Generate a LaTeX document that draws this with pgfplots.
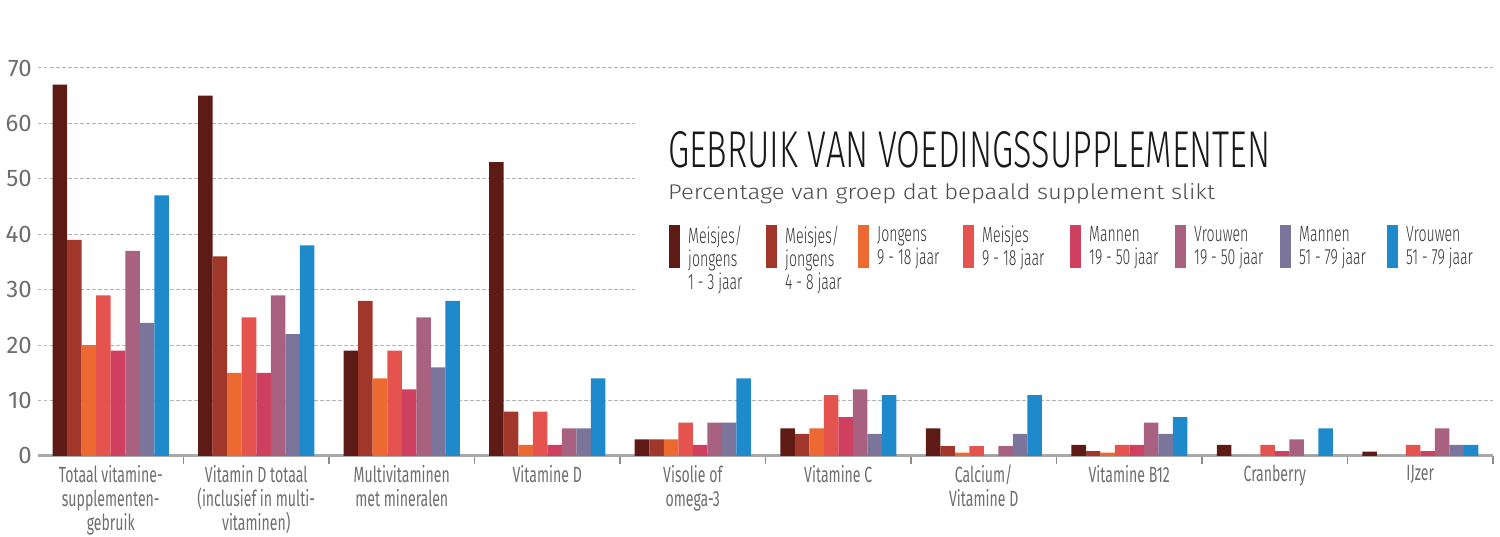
\documentclass[border=0pt]{standalone}
\usepackage{fontspec}
\setmainfont{Fira Sans}
\newfontfamily\cond{Fira Sans}[FakeStretch=0.64]
\newfontfamily\condl{Fira Sans Light}[FakeStretch=0.64]
\newfontfamily\light{Fira Sans Light}
\usepackage{pgfplots}
\usepackage{pgfplotstable}
\pgfplotsset{compat=1.18}

\definecolor{c1}{HTML}{5E1A15}
\definecolor{c2}{HTML}{A0372A}
\definecolor{c3}{HTML}{EC6A31}
\definecolor{c4}{HTML}{E5534E}
\definecolor{c5}{HTML}{CF3F60}
\definecolor{c6}{HTML}{A8617F}
\definecolor{c7}{HTML}{7B759C}
\definecolor{c8}{HTML}{1F8ACB}
\definecolor{axisgray}{HTML}{A8A8A8}
\definecolor{tickgray}{HTML}{8C8C8C}
\definecolor{gridgray}{HTML}{B4B4B4}
\definecolor{labgray}{HTML}{6E6E6E}

% groups at 0.5, 1.5, ... ; columns = the eight population groups
\pgfplotstableread{
x   a  b   c   d  e   f  g  h
0.5 67 39  20  29 19  37 24 47
1.5 65 36  15  25 15  29 22 38
2.5 19 28  14  19 12  25 16 28
3.5 53 8   2   8  2   5  5  14
4.5 3  3   3   6  2   6  6  14
5.5 5  4   5   11 7   12 4  11
6.5 5  1.8 0.6 1.8 0  1.8 4 11
7.5 2  0.9 0.6 2  2   6  4  7
8.5 2  0   0   2  0.9 3  0  5
9.5 0.8 0  0   2  0.9 5  2  2
}\supl

\begin{document}
\begin{tikzpicture}[x=1pt,y=1pt]
\useasboundingbox (0,0) rectangle (1500,537);
\begin{axis}[
  at={(38pt,81pt)}, anchor=south west,
  scale only axis, width=1455pt, height=388pt,
  xmin=0, xmax=10, ymin=0, ymax=70,
  ybar=0pt, bar width=14.5pt,
  axis lines*=left,
  y axis line style={draw=none},
  x axis line style={draw=axisgray, line width=3pt},
  ytick={0,10,...,70},
  ytick style={draw=none},
  ymajorgrids,
  grid style={draw=gridgray, line width=1pt, dash pattern=on 3.5pt off 2.5pt},
  /pgf/number format/assume math mode=true,
  yticklabel style={font=\fontsize{24}{24}\selectfont, text=labgray,
    anchor=east, inner sep=0pt, xshift=2pt},
  % ticks sit on the group boundaries, labels are moved back to the group centres
  xtick={1,2,...,10},
  xticklabels={{Totaal vitamine-\\supplementen-\\gebruik},
    {Vitamin D totaal\\(inclusief in multi-\\vitaminen)},
    {Multivitaminen\\met mineralen},
    {Vitamine D},
    {Visolie of\\omega-3},
    {Vitamine C},
    {Calcium/\\Vitamine D},
    {Vitamine B12},
    {Cranberry},
    {IJzer}},
  xticklabel style={font=\cond\fontsize{22}{24}\selectfont, text=labgray,
    align=center, anchor=north, inner sep=0pt, xshift=-72.75pt, yshift=-1pt},
  tick align=outside,
  major tick length=8pt,
  xtick style={draw=tickgray, line width=1.6pt},
]
\addplot[fill=c1, draw=none] table[x=x, y=a] {\supl};
\addplot[fill=c2, draw=none] table[x=x, y=b] {\supl};
\addplot[fill=c3, draw=none] table[x=x, y=c] {\supl};
\addplot[fill=c4, draw=none] table[x=x, y=d] {\supl};
\addplot[fill=c5, draw=none] table[x=x, y=e] {\supl};
\addplot[fill=c6, draw=none] table[x=x, y=f] {\supl};
\addplot[fill=c7, draw=none] table[x=x, y=g] {\supl};
\addplot[fill=c8, draw=none] table[x=x, y=h] {\supl};
\end{axis}

% white panel behind the title block
\fill[white] (635,227) rectangle (1500,442);

\node[anchor=base west, inner sep=0pt, text=black!90] at (668,369)
  {\resizebox{602pt}{36pt}{\light GEBRUIK VAN VOEDINGSSUPPLEMENTEN}};
\node[anchor=base west, inner sep=0pt, text=black!70] at (668,337)
  {\resizebox{547pt}{16pt}{\light Percentage van groep dat bepaald supplement slikt}};

% legend
\foreach \px/\col/\txt in {
  669/c1/{Meisjes/\\jongens\\1 - 3 jaar},
  766/c2/{Meisjes/\\jongens\\4 - 8 jaar},
  858/c3/{Jongens\\9 - 18 jaar},
  963/c4/{Meisjes\\9 - 18 jaar},
  1070/c5/{Mannen\\19 - 50 jaar},
  1175/c6/{Vrouwen\\19 - 50 jaar},
  1280/c7/{Mannen\\51 - 79 jaar},
  1387/c8/{Vrouwen\\51 - 79 jaar}} {
  \fill[\col] (\px,269) rectangle ++(11,43);
  \node[anchor=north west, inner sep=0pt, align=left, text=black!80,
    font=\condl\fontsize{22}{23}\selectfont] at (\px+19,311) {\txt};
}
\end{tikzpicture}
\end{document}
